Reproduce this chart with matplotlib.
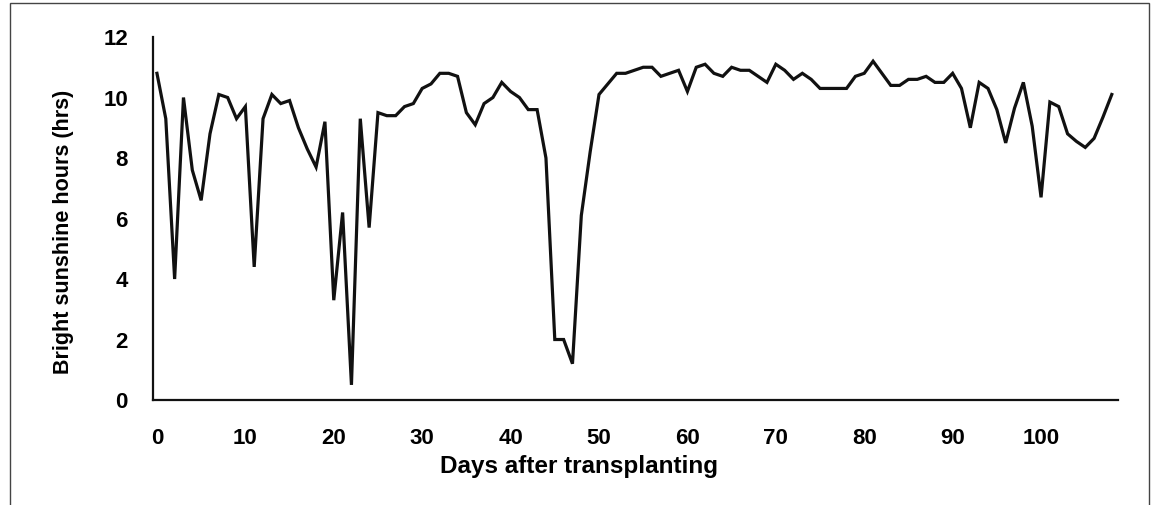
import matplotlib
matplotlib.use("Agg")
import matplotlib.pyplot as plt
from matplotlib.patches import Rectangle

plt.rcParams['font.family'] = ['Liberation Sans', 'DejaVu Sans']
plt.rcParams['font.weight'] = 'bold'

# days after transplanting, 0..108
days = list(range(0, 109))

# bright sunshine hours
sunshine = [
    10.8, 9.3, 4.0, 10.0, 7.6, 6.6, 8.8, 10.1, 10.0, 9.3,      # 0-9
    9.7, 4.4, 9.3, 10.1, 9.8, 9.9, 9.0, 8.3, 7.7, 9.2,         # 10-19
    3.3, 6.2, 0.5, 9.3, 5.7, 9.5, 9.4, 9.4, 9.7, 9.8,          # 20-29
    10.3, 10.45, 10.8, 10.8, 10.7, 9.5, 9.1, 9.8, 10.0, 10.5,  # 30-39
    10.2, 10.0, 9.6, 9.6, 8.0, 2.0, 2.0, 1.2, 6.1, 8.2,        # 40-49
    10.1, 10.45, 10.8, 10.8, 10.9, 11.0, 11.0, 10.7, 10.8, 10.9,  # 50-59
    10.2, 11.0, 11.1, 10.8, 10.7, 11.0, 10.9, 10.9, 10.7, 10.5,   # 60-69
    11.1, 10.9, 10.6, 10.8, 10.6, 10.3, 10.3, 10.3, 10.3, 10.7,   # 70-79
    10.8, 11.2, 10.8, 10.4, 10.4, 10.6, 10.6, 10.7, 10.5, 10.5,   # 80-89
    10.8, 10.3, 9.0, 10.5, 10.3, 9.6, 8.5, 9.65, 10.5, 9.05,      # 90-99
    6.7, 9.85, 9.7, 8.8, 8.55, 8.35, 8.65, 9.35, 10.1,            # 100-108
]

yticks = [0, 2, 4, 6, 8, 10, 12]
xticks = [0, 10, 20, 30, 40, 50, 60, 70, 80, 90, 100]

fig = plt.figure(figsize=(11.51, 5.05), dpi=100)
ax = fig.add_axes([0.1329, 0.2079, 0.8384, 0.7188])

ax.plot(days, sunshine, color='#111111', linewidth=2.3, solid_joinstyle='miter')

ax.set_xlim(-0.45, 108.7)
ax.set_ylim(0, 12)
ax.set_xticks(xticks)
ax.set_yticks(yticks)
ax.tick_params(axis='both', length=0, labelsize=16)
ax.tick_params(axis='x', pad=20)
ax.tick_params(axis='y', pad=18)

for s in ['top', 'right']:
    ax.spines[s].set_visible(False)
for s in ['left', 'bottom']:
    ax.spines[s].set_color('#111111')
    ax.spines[s].set_linewidth(1.6)

ax.set_xlabel('Days after transplanting', fontsize=17.5, fontweight='bold')
ax.set_ylabel('Bright sunshine hours (hrs)', fontsize=15.5, fontweight='bold')
ax.xaxis.set_label_coords(0.441, -0.152)
ax.yaxis.set_label_coords(-0.082, 0.463)

# outer border of chart area
fig.patches.append(Rectangle((10 / 1151, -0.02), 1139 / 1151, 1.0 - 3 / 505 + 0.02,
                             transform=fig.transFigure, fill=False,
                             edgecolor='#444444', linewidth=1.0))

fig.savefig('out.png', dpi=100)
